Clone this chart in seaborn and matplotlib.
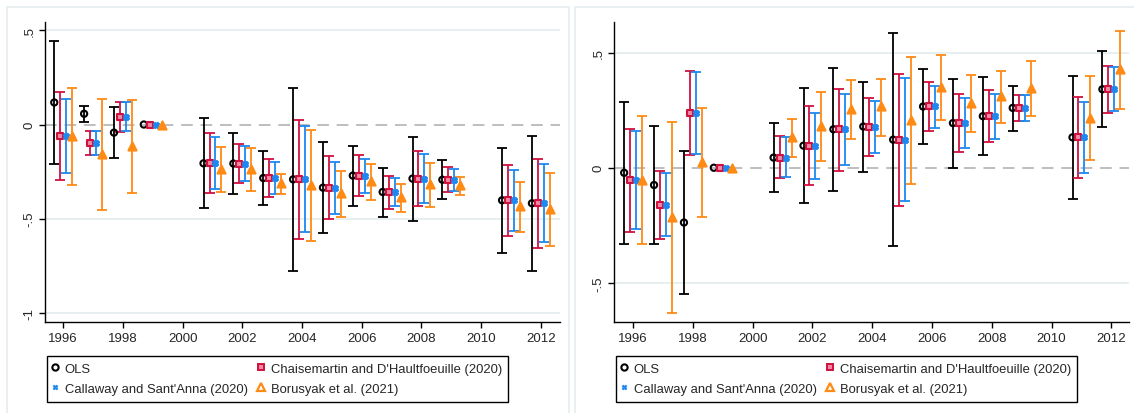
import numpy as np
import pandas as pd
import seaborn as sns
import matplotlib.pyplot as plt
from matplotlib.lines import Line2D
from matplotlib.patches import Rectangle

# event years (1999 is the reference year)
years = [1996, 1997, 1998, 1999, 2001, 2002, 2003, 2004, 2005, 2006, 2007, 2008, 2009, 2011, 2012]

# left panel
ols_l = [0.117, 0.057, -0.043, 0, -0.206, -0.207, -0.284, -0.291, -0.335, -0.271, -0.358, -0.287, -0.293, -0.402, -0.418]
ols_l_lo = [-0.207, 0.014, -0.177, 0, -0.445, -0.371, -0.429, -0.777, -0.578, -0.431, -0.489, -0.511, -0.397, -0.683, -0.777]
ols_l_hi = [0.443, 0.098, 0.094, 0, 0.035, -0.044, -0.138, 0.195, -0.092, -0.112, -0.229, -0.064, -0.188, -0.122, -0.062]

dcdh_l = [-0.060, -0.098, 0.041, 0, -0.206, -0.207, -0.284, -0.291, -0.335, -0.271, -0.358, -0.287, -0.293, -0.402, -0.418]
dcdh_l_lo = [-0.296, -0.160, -0.039, 0, -0.363, -0.310, -0.383, -0.605, -0.500, -0.379, -0.447, -0.434, -0.360, -0.590, -0.654]
dcdh_l_hi = [0.172, -0.037, 0.122, 0, -0.046, -0.105, -0.184, 0.023, -0.168, -0.163, -0.271, -0.142, -0.225, -0.215, -0.184]

cs_l = [-0.060, -0.098, 0.041, 0, -0.206, -0.207, -0.284, -0.291, -0.335, -0.271, -0.358, -0.287, -0.293, -0.402, -0.418]
cs_l_lo = [-0.257, -0.160, -0.037, 0, -0.344, -0.301, -0.367, -0.569, -0.475, -0.363, -0.434, -0.417, -0.353, -0.564, -0.624]
cs_l_hi = [0.137, -0.037, 0.119, 0, -0.067, -0.112, -0.200, -0.009, -0.197, -0.181, -0.282, -0.158, -0.234, -0.241, -0.211]

bjs_l = [-0.060, -0.156, -0.113, 0, -0.236, -0.238, -0.312, -0.319, -0.365, -0.301, -0.387, -0.317, -0.321, -0.431, -0.449]
bjs_l_lo = [-0.319, -0.452, -0.363, 0, -0.358, -0.353, -0.367, -0.619, -0.491, -0.402, -0.465, -0.438, -0.376, -0.569, -0.645]
bjs_l_hi = [0.195, 0.135, 0.129, 0, -0.117, -0.126, -0.264, -0.027, -0.246, -0.207, -0.317, -0.204, -0.277, -0.303, -0.259]

# right panel
ols_r = [-0.022, -0.075, -0.238, 0, 0.044, 0.096, 0.167, 0.179, 0.122, 0.266, 0.194, 0.224, 0.260, 0.132, 0.341]
ols_r_lo = [-0.332, -0.332, -0.547, 0, -0.104, -0.155, -0.102, -0.017, -0.340, 0.104, 0.001, 0.054, 0.160, -0.136, 0.176]
ols_r_hi = [0.287, 0.181, 0.074, 0, 0.194, 0.345, 0.433, 0.373, 0.585, 0.427, 0.385, 0.395, 0.357, 0.399, 0.507]

dcdh_r = [-0.054, -0.161, 0.239, 0, 0.044, 0.096, 0.167, 0.179, 0.122, 0.266, 0.194, 0.224, 0.260, 0.132, 0.341]
dcdh_r_lo = [-0.279, -0.309, 0.057, 0, -0.045, -0.075, -0.012, 0.051, -0.167, 0.158, 0.067, 0.110, 0.202, -0.044, 0.239]
dcdh_r_hi = [0.170, -0.015, 0.422, 0, 0.136, 0.266, 0.344, 0.305, 0.409, 0.373, 0.321, 0.337, 0.315, 0.306, 0.444]

cs_r = [-0.054, -0.161, 0.239, 0, 0.044, 0.096, 0.167, 0.179, 0.122, 0.266, 0.194, 0.224, 0.260, 0.132, 0.341]
cs_r_lo = [-0.267, -0.298, 0.061, 0, -0.041, -0.049, 0.013, 0.065, -0.144, 0.173, 0.084, 0.126, 0.202, -0.022, 0.245]
cs_r_hi = [0.160, -0.025, 0.418, 0, 0.132, 0.239, 0.319, 0.290, 0.388, 0.357, 0.305, 0.322, 0.315, 0.284, 0.437]

bjs_r = [-0.054, -0.213, 0.026, 0, 0.132, 0.181, 0.254, 0.266, 0.209, 0.351, 0.280, 0.311, 0.345, 0.218, 0.428]
bjs_r_lo = [-0.332, -0.631, -0.212, 0, 0.045, 0.028, 0.123, 0.139, -0.071, 0.209, 0.154, 0.194, 0.225, 0.032, 0.257]
bjs_r_hi = [0.226, 0.200, 0.258, 0, 0.213, 0.331, 0.380, 0.386, 0.483, 0.491, 0.401, 0.419, 0.463, 0.399, 0.595]

labels = ["OLS", "Chaisemartin and D'Haultfoeuille (2020)",
          "Callaway and Sant'Anna (2020)", "Borusyak et al. (2021)"]
xticks = [1996, 1998, 2000, 2002, 2004, 2006, 2008, 2010, 2012]

# estimator styles: colour, marker, face colour, size, x offset
styles = [
    ("black", "o", "none", 20, -0.3),
    ("#D0103F", "s", "#F08AA4", 14, -0.1),
    ("#1E88F0", "X", "#1E88F0", 14, 0.1),
    ("#FF8A14", "^", "#FF8A14", 34, 0.3),
]

sns.set_style("white")
plt.rcParams['font.family'] = ['Liberation Sans', 'DejaVu Sans']

W, H = 1134, 414
fig = plt.figure(figsize=(W / 100, H / 100), dpi=100)


def px_axes(x0, y0, x1, y1):
    return fig.add_axes([x0 / W, 1 - y1 / H, (x1 - x0) / W, (y1 - y0) / H])


# light panel borders (Stata graph region)
for x0, x1 in [(7, 569), (575, 1140)]:
    fig.patches.append(Rectangle((x0 / W, -0.1), (x1 - x0) / W, 1.1 - 8 / H,
                                 transform=fig.transFigure, fill=False,
                                 edgecolor="#E6EEF0", lw=1.2, zorder=0))


def draw_panel(ax, series, ylim, yticks, yticklabels, xlim):
    for y in yticks:
        if y != 0:
            ax.axhline(y, color="#E4ECEE", lw=1.2, zorder=0)
    ax.axhline(0, color="#BEBEBE", lw=1.4, ls=(0, (6, 4)), zorder=0.5)
    for (est, lo, hi), (col, mk, fc, s, off) in zip(series, styles):
        df = pd.DataFrame({"year": years, "est": est, "lo": lo, "hi": hi})
        df["x"] = df["year"] + off
        ci = df[df["lo"] != df["hi"]]
        ax.errorbar(ci["x"], ci["est"], yerr=[ci["est"] - ci["lo"], ci["hi"] - ci["est"]],
                    fmt="none", ecolor=col, elinewidth=1.3, capsize=3.5, capthick=1.3, zorder=2)
        sns.scatterplot(data=df, x="x", y="est", ax=ax, marker=mk, s=s, color=col,
                        facecolor=fc, edgecolor=col, linewidth=1.5, zorder=3, legend=False)
    ax.set_xlim(*xlim)
    ax.set_ylim(*ylim)
    ax.set_xticks(xticks)
    ax.set_xticklabels([str(t) for t in xticks], fontsize=9.5)
    ax.set_yticks(yticks)
    ax.set_yticklabels(yticklabels, fontsize=9.5, rotation=90, va="center")
    ax.set_xlabel("")
    ax.set_ylabel("")
    for side in ["top", "right"]:
        ax.spines[side].set_visible(False)
    for side in ["left", "bottom"]:
        ax.spines[side].set_color("black")
        ax.spines[side].set_linewidth(1.0)
    ax.tick_params(axis="both", direction="out", length=4, width=1, color="black",
                   left=True, bottom=True, pad=3)

    handles = [
        Line2D([], [], ls="", marker="o", mfc="none", mec="black", ms=4.5, mew=1.5),
        Line2D([], [], ls="", marker="X", mfc=styles[2][0], mec=styles[2][0], ms=3.5, mew=0.5),
        Line2D([], [], ls="", marker="s", mfc=styles[1][2], mec=styles[1][0], ms=4, mew=1.4),
        Line2D([], [], ls="", marker="^", mfc="white", mec=styles[3][0], ms=5.5, mew=1.6),
    ]
    leg_labels = [labels[0], labels[2], labels[1], labels[3]]
    leg = ax.legend(handles, leg_labels, ncol=2, loc="upper left",
                    bbox_to_anchor=(0.003, -0.113),
                    borderaxespad=0, fontsize=9.4, frameon=True, fancybox=False,
                    edgecolor="black", framealpha=1, handlelength=0.3,
                    handletextpad=0.6, labelspacing=0.64, borderpad=0.5,
                    columnspacing=0.85)
    leg.get_frame().set_linewidth(1.0)


ax1 = px_axes(45, 23, 560, 323)
draw_panel(ax1,
           [(ols_l, ols_l_lo, ols_l_hi), (dcdh_l, dcdh_l_lo, dcdh_l_hi),
            (cs_l, cs_l_lo, cs_l_hi), (bjs_l, bjs_l_lo, bjs_l_hi)],
           (-1.048, 0.544), [-1, -0.5, 0, 0.5], ["-1", "-.5", "0", ".5"],
           (1995.39, 2012.64))

ax2 = px_axes(614, 23, 1129, 323)
draw_panel(ax2,
           [(ols_r, ols_r_lo, ols_r_hi), (dcdh_r, dcdh_r_lo, dcdh_r_hi),
            (cs_r, cs_r_lo, cs_r_hi), (bjs_r, bjs_r_lo, bjs_r_hi)],
           (-0.670, 0.633), [-0.5, 0, 0.5], ["-.5", "0", ".5"],
           (1995.36, 2012.59))

fig.savefig("out.png", dpi=100)
